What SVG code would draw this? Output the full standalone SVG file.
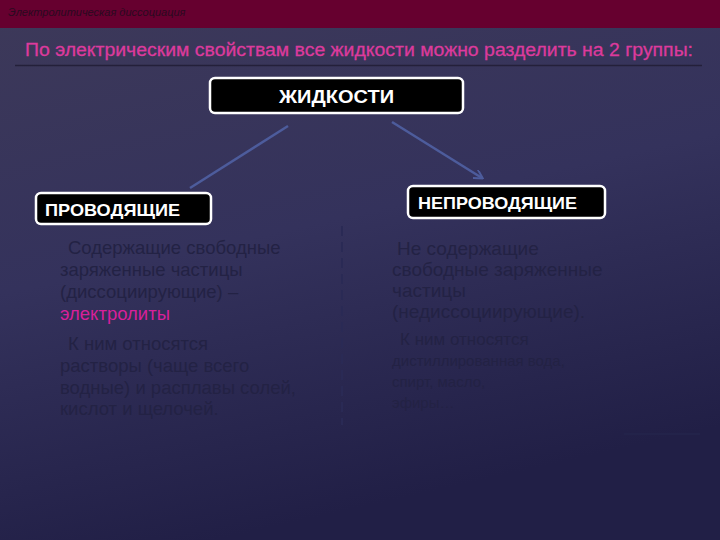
<svg xmlns="http://www.w3.org/2000/svg" width="720" height="540" viewBox="0 0 720 540">
<defs>
<linearGradient id="bg" x1="0" y1="0" x2="0.3" y2="1">
<stop offset="0" stop-color="#3d3959"/>
<stop offset="0.5" stop-color="#34325c"/>
<stop offset="1" stop-color="#211f46"/>
</linearGradient>
<marker id="ah" markerWidth="10" markerHeight="10" refX="8" refY="5" orient="auto" markerUnits="userSpaceOnUse">
<path d="M0,0 L9,5 L0,10" fill="none" stroke="#4d5c9c" stroke-width="2"/>
</marker>
<style>
.box{fill:#000;stroke:#fff;stroke-width:2.5}
.bt{font-family:"Liberation Sans",Arial,sans-serif;fill:#fff;font-weight:bold}
.body{font-family:"Liberation Sans",Arial,sans-serif;font-size:18.5px;fill:#232244}
.r19{font-size:19px}
.r17{font-size:17px}
.r15{font-size:15px}
.conn{stroke:#4d5c9c;stroke-width:2.5;fill:none}
</style>
</defs>
<rect width="720" height="540" fill="url(#bg)"/>
<rect width="720" height="28" fill="#66002f"/>
<text x="8" y="16" font-family="Liberation Sans,Arial,sans-serif" font-size="11" font-style="italic" fill="#2a0a20">Электролитическая диссоциация</text>
<text x="25" y="56" font-family="Liberation Sans,Arial,sans-serif" font-size="17.5" fill="#dc3a9c" stroke="#dc3a9c" stroke-width="0.3" textLength="668" lengthAdjust="spacingAndGlyphs">По электрическим свойствам все жидкости можно разделить на 2 группы:</text>
<line x1="15" y1="65.5" x2="702" y2="65.5" stroke="#24203a" stroke-width="1.5"/>
<g id="connectors">
<line class="conn" x1="288" y1="126" x2="190" y2="188"/>
<line class="conn" x1="392" y1="122" x2="482" y2="178" marker-end="url(#ah)"/>
<line x1="342" y1="226" x2="342" y2="425" stroke="#2a2a55" stroke-width="2" stroke-dasharray="10,6"/>
</g>
<g id="n-liquids">
<rect class="box" x="210" y="78" width="253" height="35" rx="5"/>
<text class="bt" x="336.5" y="103" font-size="18" text-anchor="middle" textLength="115" lengthAdjust="spacingAndGlyphs">ЖИДКОСТИ</text>
</g>
<g id="n-conducting">
<rect class="box" x="36" y="193" width="175" height="31" rx="5"/>
<text class="bt" x="45" y="215.5" font-size="17" textLength="135" lengthAdjust="spacingAndGlyphs">ПРОВОДЯЩИЕ</text>
</g>
<g id="n-nonconducting">
<rect class="box" x="408" y="186" width="197" height="32" rx="5"/>
<text class="bt" x="418" y="208.5" font-size="17" textLength="159" lengthAdjust="spacingAndGlyphs">НЕПРОВОДЯЩИЕ</text>
</g>
<g id="t-left">
<text class="body" x="68" y="254">Содержащие свободные</text>
<text class="body" x="60" y="276">заряженные частицы</text>
<text class="body" x="60" y="298">(диссоциирующие) –</text>
<text class="body" x="60" y="320" style="fill:#d8209a">электролиты</text>
<text class="body" x="68" y="350">К ним относятся</text>
<text class="body" x="60" y="372">растворы (чаще всего</text>
<text class="body" x="60" y="394">водные) и расплавы солей,</text>
<text class="body" x="60" y="415">кислот и щелочей.</text>
</g>
<g id="t-right">
<text class="body r19" x="397" y="255">Не содержащие</text>
<text class="body r19" x="392" y="276">свободные заряженные</text>
<text class="body r19" x="392" y="297">частицы</text>
<text class="body r19" x="392" y="318">(недиссоциирующие).</text>
<text class="body r17" x="400" y="345">К ним относятся</text>
<text class="body r15" x="392" y="366">дистиллированная вода,</text>
<text class="body r15" x="392" y="387">спирт, масло,</text>
<text class="body r15" x="392" y="408">эфиры…</text>
</g>
<line x1="624" y1="434" x2="700" y2="434" stroke="#23234a" stroke-width="2"/>
</svg>
